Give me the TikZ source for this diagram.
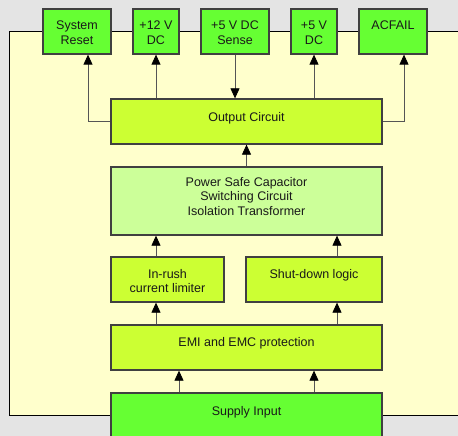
\documentclass[tikz,border=0pt]{standalone}
\usepackage{fontspec}
\setmainfont{Liberation Sans}
\usetikzlibrary{arrows.meta,calc}
\definecolor{bg}{HTML}{E4E4E4}
\definecolor{cream}{HTML}{FFFFCC}
\definecolor{brightgreen}{HTML}{66FF33}
\definecolor{limegreen}{HTML}{CCFF33}
\definecolor{palegreen}{HTML}{CCFF99}
\definecolor{edgegray}{HTML}{404040}
\definecolor{linegray}{HTML}{555555}
\begin{document}
\begin{tikzpicture}[x=1pt,y=-1pt,
  box/.style={draw=edgegray, line width=1.3pt, inner sep=0pt, rectangle},
  lbl/.style={font=\fontsize{12.5}{14.5}\selectfont, align=center, inner sep=0pt, anchor=north, text=black!90},
  conn/.style={draw=linegray, line width=0.8pt, -{Triangle[width=9pt,length=10pt,fill=black,color=black]}}]
\clip (0,0) rectangle (458,436);
\fill[bg] (0,0) rectangle (458,436);
\draw[fill=cream, line width=0.8pt] (9,31) rectangle (470,415);
% top boxes
\node[box, fill=brightgreen, minimum width=68pt, minimum height=45pt] (sr) at (77,31.5) {};
\node[box, fill=brightgreen, minimum width=46pt, minimum height=45pt] (dc12) at (156,31.5) {};
\node[box, fill=brightgreen, minimum width=68pt, minimum height=45pt] (sense) at (235,31.5) {};
\node[box, fill=brightgreen, minimum width=46pt, minimum height=45pt] (dc5) at (314,31.5) {};
\node[box, fill=brightgreen, minimum width=68pt, minimum height=45pt] (acf) at (393,31.5) {};
% main boxes
\node[box, fill=limegreen, minimum width=271pt, minimum height=45pt] (out) at (246.5,121.5) {};
\node[box, fill=palegreen, minimum width=271pt, minimum height=68pt] (ps) at (246.5,201) {};
\node[box, fill=limegreen, minimum width=113pt, minimum height=45pt] (ir) at (167.5,279.5) {};
\node[box, fill=limegreen, minimum width=136pt, minimum height=45pt] (sd) at (314,279.5) {};
\node[box, fill=limegreen, minimum width=271pt, minimum height=45pt] (emi) at (246.5,347.5) {};
\node[box, fill=brightgreen, minimum width=271pt, minimum height=52pt] (sup) at (246.5,419) {};
% labels
\node[lbl] (srt) at ($(sr.north)+(0,12.5)$) {System\\Reset};
\node[lbl] (dc12t) at ($(dc12.north)+(0,12.5)$) {+12 V\\DC};
\node[lbl] (senset) at ($(sense.north)+(0,12.5)$) {+5 V DC\\Sense};
\node[lbl] (dc5t) at ($(dc5.north)+(0,12.5)$) {+5 V\\DC};
\node[lbl] (acft) at ($(acf.north)+(0,12.5)$) {ACFAIL};
\node[lbl] (outt) at ($(out.north)+(0,14)$) {Output Circuit};
\node[lbl] (pst) at ($(ps.north)+(0,10.5)$) {Power Safe Capacitor\\Switching Circuit\\Isolation Transformer};
\node[lbl] (irt) at ($(ir.north)+(0,12.5)$) {In-rush\\current limiter};
\node[lbl] (sdt) at ($(sd.north)+(0,12.5)$) {Shut-down logic};
\node[lbl] (emit) at ($(emi.north)+(0,12.5)$) {EMI and EMC protection};
\node[lbl] (supt) at ($(sup.north)+(0,14)$) {Supply Input};
% connectors
\draw[conn] (out.west) -| ([xshift=11pt]sr.south);
\draw[conn] (dc12.south |- out.north) -- (dc12.south);
\draw[conn] (sense.south) -- (sense.south |- out.north);
\draw[conn] (dc5.south |- out.north) -- (dc5.south);
\draw[conn] (out.east) -| ([xshift=11pt]acf.south);
\draw[conn] (ps.north) -- (out.south);
\draw[conn] ([xshift=-11.5pt]ir.north) -- ([xshift=-11.5pt]ir.north |- ps.south);
\draw[conn] ([xshift=23pt]sd.north) -- ([xshift=23pt]sd.north |- ps.south);
\draw[conn] ([xshift=-11.5pt]ir.south |- emi.north) -- ([xshift=-11.5pt]ir.south);
\draw[conn] ([xshift=23pt]sd.south |- emi.north) -- ([xshift=23pt]sd.south);
\draw[conn] ([xshift=-67.5pt]sup.north) -- ([xshift=-67.5pt]sup.north |- emi.south);
\draw[conn] ([xshift=67.5pt]sup.north) -- ([xshift=67.5pt]sup.north |- emi.south);
\end{tikzpicture}
\end{document}
